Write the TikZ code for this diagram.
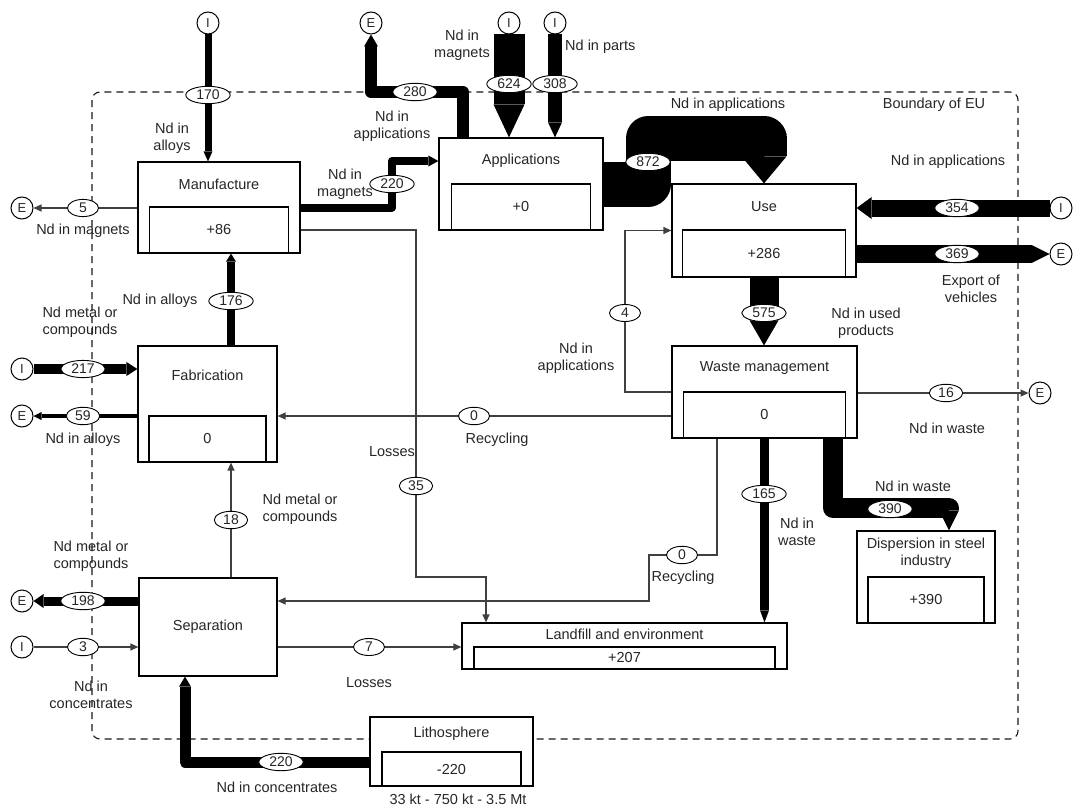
\documentclass[tikz,border=0pt]{standalone}
\usepackage{fontspec}
\setmainfont{Liberation Sans}
\usetikzlibrary{arrows.meta,calc,shapes.geometric}

\pgfdeclarelayer{bound}
\pgfdeclarelayer{flows}
\pgfsetlayers{bound,flows,main}

\tikzset{
  box/.style={draw, fill=white, line width=1.2pt, inner sep=0pt},
  valbox/.style={draw, fill=white, line width=1.2pt, inner sep=0pt},
  term/.style={draw, circle, fill=white, line width=1pt, minimum size=22pt, inner sep=0pt, font=\fontsize{13}{14}\selectfont},
  qty/.style={draw, ellipse, fill=white, line width=0.9pt, inner xsep=4pt, inner ysep=1.2pt, minimum width=31pt, minimum height=17pt, font=\fontsize{14}{15}\selectfont},
  lbl/.style={align=center, inner sep=0pt},
  flow/.style={draw=black, line width=#1, line join=round},
  flowhead/.style 2 args={-{Triangle[length=#1,width=#2,line width=0pt]}},
  thinflow/.style={draw=black!75, line width=1.2pt, -{Triangle[length=8pt,width=7pt]}},
}

\begin{document}
\begin{tikzpicture}[x=1pt,y=-1pt,font=\fontsize{14.5}{17}\selectfont,text=black!85]
\useasboundingbox (0,0) rectangle (1073,808);

% processes
\node[box, minimum width=162pt, minimum height=91pt] (manu) at (219,207.5) {};
\node[valbox, minimum width=139pt, minimum height=46pt, anchor=south] (manuv) at (manu.south) {+86};
\node (manut) at ($(manu.north)!.5!(manuv.north)$) {Manufacture};

\node[box, minimum width=164pt, minimum height=92pt] (appl) at (521,184) {};
\node[valbox, minimum width=139pt, minimum height=46pt, anchor=south] (applv) at (appl.south) {+0};
\node (applt) at ($(appl.north)!.5!(applv.north)$) {Applications};

\node[box, minimum width=184pt, minimum height=93pt] (use) at (764,230.5) {};
\node[valbox, minimum width=163pt, minimum height=47pt, anchor=south] (usev) at (use.south) {+286};
\node (uset) at ($(use.north)!.5!(usev.north)$) {Use};

\node[box, minimum width=139pt, minimum height=116pt] (fabr) at (207.5,404) {};
\node[valbox, minimum width=117pt, minimum height=46pt, anchor=south] (fabrv) at (fabr.south) {0};
\node (fabrt) at ($(fabr.north)!.43!(fabrv.north)$) {Fabrication};

\node[box, minimum width=185pt, minimum height=92pt] (waste) at (764.5,392) {};
\node[valbox, minimum width=162pt, minimum height=46pt, anchor=south] (wastev) at (waste.south) {0};
\node (wastet) at ($(waste.north)!.5!(wastev.north)$) {Waste management};

\node[box, minimum width=138pt, minimum height=92pt] (disp) at (926,577) {};
\node[valbox, minimum width=116pt, minimum height=46pt, anchor=south] (dispv) at (disp.south) {+390};
\node[lbl] (dispt) at ($(disp.north)!.5!(dispv.north)$) {Dispersion in steel\\industry};

\node[box, minimum width=325pt, minimum height=46pt] (landf) at (624.5,646) {};
\node[valbox, minimum width=301pt, minimum height=22pt, anchor=south] (landfv) at (landf.south) {+207};
\node (landft) at ($(landf.north)!.5!(landfv.north)$) {Landfill and environment};

\node[box, minimum width=138pt, minimum height=98pt] (sepa) at (208,627) {Separation};

\node[box, minimum width=163pt, minimum height=69pt] (litho) at (451.5,751.5) {};
\node[valbox, minimum width=139pt, minimum height=34pt, anchor=south] (lithov) at (litho.south) {-220};
\node (lithot) at ($(litho.north)!.5!(lithov.north)$) {Lithosphere};
\node[lbl] (tlith) at (458,799) {33 kt - 750 kt - 3.5 Mt};

% import / export
\node[term] (iAlloy) at (208,23) {I};
\node[term] (eAppl) at (371,23) {E};
\node[term] (iMagn) at (509,23) {I};
\node[term] (iPart) at (555,23) {I};
\node[term] (eMagn) at (22,208) {E};
\node[term] (iComp) at (22,369) {I};
\node[term] (eAlloy) at (22,416) {E};
\node[term] (eComp) at (22,601) {E};
\node[term] (iConc) at (22,647) {I};
\node[term] (iUse) at (1061,208) {I};
\node[term] (eVeh) at (1061,254) {E};
\node[term] (eWaste) at (1040,393) {E};

% quantities
\node[qty] (q170) at (208,95) {170};
\node[qty] (q5) at (83,208) {5};
\node[qty] (q220) at (392,184) {220};
\node[qty] (q280) at (415,92) {280};
\node[qty] (q624) at (509,84) {624};
\node[qty] (q308) at (555,84) {308};
\node[qty] (q872) at (648,162) {872};
\node[qty] (q354) at (957,208) {354};
\node[qty] (q369) at (957,254) {369};
\node[qty] (q575) at (764,313) {575};
\node[qty] (q4) at (625,313) {4};
\node[qty] (q0a) at (474,416) {0};
\node[qty] (q16) at (946,393) {16};
\node[qty] (q165) at (764,494) {165};
\node[qty] (q390) at (890,509) {390};
\node[qty] (q0b) at (682,555) {0};
\node[qty] (q35) at (416,486) {35};
\node[qty] (q7) at (369,647) {7};
\node[qty] (q3) at (83,647) {3};
\node[qty] (q198) at (83,601) {198};
\node[qty] (q18) at (231,520) {18};
\node[qty] (q176) at (231,301) {176};
\node[qty] (q217) at (83,369) {217};
\node[qty] (q59) at (83,416) {59};
\node[qty] (q220b) at (281,762) {220};

% bends
\coordinate (c872) at (648,138.5);
\coordinate (c390) at (833,508);
\coordinate (c0b) at (717,555);
\coordinate (c0c) at (649,601);
\coordinate (c35a) at (416,577);
\coordinate (c35b) at (486,577);
\coordinate (c220) at (185,762);

% labels
\node[lbl] (t170) at (172,138) {Nd in\\alloys};
\node[lbl] (t5) at (83,231) {Nd in magnets};
\node[lbl] (t220) at (345,184.5) {Nd in\\magnets};
\node[lbl] (t280) at (392,126) {Nd in\\applications};
\node[lbl] (t624) at (462,45.5) {Nd in\\magnets};
\node[lbl, anchor=west] (t308) at (565,47) {Nd in parts};
\node[lbl] (t872) at (728,105) {Nd in applications};
\node[lbl] (tEU) at (934,105) {Boundary of EU};
\node[lbl] (t354) at (948,162) {Nd in applications};
\node[lbl] (t369) at (971,289) {Export of\\vehicles};
\node[lbl] (t575) at (866,323) {Nd in used\\products};
\node[lbl] (t4) at (576,358) {Nd in\\applications};
\node[lbl] (t0a) at (497,440) {Recycling};
\node[lbl] (t16) at (947,428) {Nd in waste};
\node[lbl] (t165) at (797,532) {Nd in\\waste};
\node[lbl] (t390) at (913,486) {Nd in waste};
\node[lbl] (t0b) at (683,578) {Recycling};
\node[lbl] (t35) at (392,452) {Losses};
\node[lbl] (t7) at (369,683) {Losses};
\node[lbl] (t217) at (80,322) {Nd metal or\\compounds};
\node[lbl] (t176) at (160,301) {Nd in alloys};
\node[lbl] (t59) at (83,440) {Nd in alloys};
\node[lbl] (t18) at (300,509) {Nd metal or\\compounds};
\node[lbl] (t198) at (91,556) {Nd metal or\\compounds};
\node[lbl] (t3) at (91,695) {Nd in\\concentrates};
\node[lbl] (t220b) at (277,787) {Nd in concentrates};

\begin{pgfonlayer}{bound}
\draw[black!90, line width=1.1pt, dash pattern=on 7pt off 5pt, rounded corners=8pt] (92,92) rectangle (1018,739);
\end{pgfonlayer}

\begin{pgfonlayer}{flows}
% thick flows
\draw[flow=7pt, flowhead={10pt}{9pt}] (iAlloy) -- (iAlloy |- manu.north);
\draw[flow=8pt, flowhead={10pt}{11pt}] (manu.east) -| (q220.center) |- ([yshift=23pt]appl.west);
\draw[flow=12pt, flowhead={12pt}{14pt}] ([xshift=-58pt]appl.north) |- (q280.center) -| (eAppl);
\draw[flow=31pt, flowhead={33pt}{31pt}] (iMagn) -- (iMagn |- appl.north);
\draw[flow=14pt, flowhead={15pt}{14pt}] (iPart) -- (iPart |- appl.north);
\draw[flow=45pt, flowhead={27pt}{45pt}] (appl.east) -| (c872) -| (use.north);
\draw[flow=17pt, flowhead={15pt}{22pt}] (iUse) -- (iUse -| use.east);
\draw[flow=18pt, flowhead={18pt}{18pt}] (use.east |- eVeh) -- (eVeh);
\draw[flow=29pt, flowhead={25pt}{29pt}] (use.south) -- (use.south |- waste.north);
\draw[flow=9pt, flowhead={12pt}{9pt}] (waste.south) -- (waste.south |- landf.north);
\draw[flow=20pt, flowhead={20pt}{20pt}] (c390 |- waste.south) -- (c390) -| ([xshift=23pt]disp.north);
\draw[flow=9pt, flowhead={10pt}{14pt}] (sepa.west |- eComp) -- (eComp);
\draw[flow=8pt, flowhead={8pt}{10pt}] (fabr.north -| q176) -- (manu.south -| q176);
\draw[flow=10pt, flowhead={11pt}{14pt}] (iComp) -- (iComp -| fabr.west);
\draw[flow=3.5pt, flowhead={8pt}{8pt}] (fabr.west |- eAlloy) -- (eAlloy);
\draw[flow=11pt, flowhead={10pt}{12pt}] (litho.west |- c220) -- (c220) -- (c220 |- sepa.south);
% thin flows
\draw[thinflow] (manu.west |- eMagn) -- (eMagn);
\draw[thinflow] (waste.west) -| (q4.center) |- (use.west);
\draw[thinflow] (waste.west |- q0a) -- (fabr.east |- q0a);
\draw[thinflow] (waste.east |- eWaste) -- (eWaste);
\draw[thinflow] (c0b |- waste.south) -- (c0b) -| (c0c) -- (c0c -| sepa.east);
\draw[thinflow] (manuv -| manu.east) -| (c35a) -- (c35b) -- (c35b |- landf.north);
\draw[thinflow] (sepa.east |- q7) -- (landf.west |- q7);
\draw[thinflow] (iConc) -- (iConc -| sepa.west);
\draw[thinflow] (sepa.north -| q18) -- (fabr.south -| q18);
\end{pgfonlayer}

\end{tikzpicture}
\end{document}
